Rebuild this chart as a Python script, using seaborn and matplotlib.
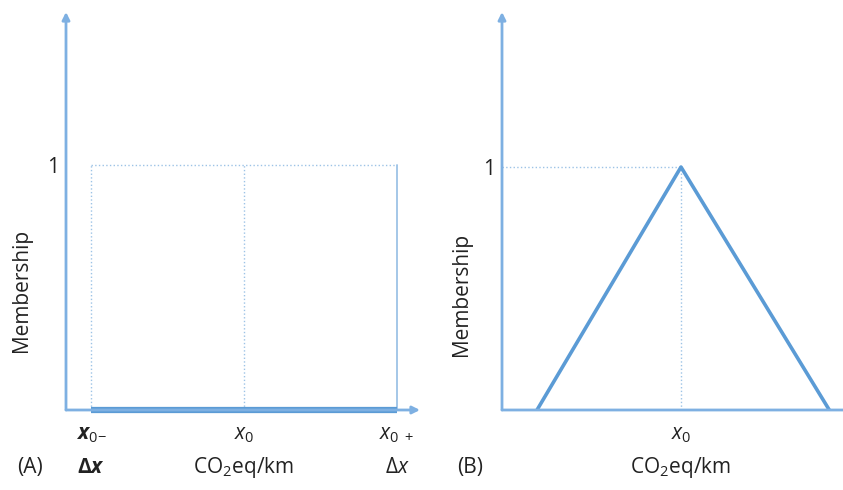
import matplotlib
matplotlib.use("Agg")
import matplotlib.pyplot as plt
import seaborn as sns

# panel A: crisp interval x0 +/- dx (drawn as a bar on the axis)
crisp_x = [-1.0, 1.0]
crisp_y = [0.0, 0.0]
a_ticks = [-1.0, 0.0, 1.0]
a_ticklabels = [r"$\mathbfit{x}_{0\!-}$", r"$x_0$", r"$x_{0\ +}$"]
a_subrow = [r"$\mathbf{\Delta}\mathbfit{x}$", "CO$_2$eq/km", r"$\Delta x$"]

# panel B: triangular membership around x0
tri_x = [-1.0, 0.0, 1.03]
tri_y = [0.0, 1.0, 0.0]
b_ticks = [0.0]
b_ticklabels = [r"$x_0$"]

sns.set_style("white")
plt.rcParams["font.family"] = ["Open Sans", "DejaVu Sans"]
plt.rcParams["mathtext.fontset"] = "custom"
plt.rcParams["mathtext.rm"] = "Open Sans"
plt.rcParams["mathtext.it"] = "Open Sans:italic"
plt.rcParams["mathtext.bf"] = "Open Sans:bold"
plt.rcParams["mathtext.bfit"] = "Open Sans:bold:italic"

main_c = "#5b9bd5"
axis_c = "#7eb0e2"
guide_c = "#9dc3e6"
txt_c = "#222222"
fs = 15

W, H = 843, 490
fig = plt.figure(figsize=(W / 100, H / 100), dpi=100)


def px_axes(x0, x1, ytop, ybot):
    return fig.add_axes([x0 / W, (H - ybot) / H, (x1 - x0) / W, (ybot - ytop) / H])


def frame(ax, xarrow=True):
    for s in ax.spines.values():
        s.set_visible(False)
    ax.annotate("", xy=(0, 1), xytext=(0, 0), xycoords="axes fraction",
                arrowprops=dict(arrowstyle="-|>", color=axis_c, lw=2,
                                mutation_scale=11, shrinkA=0, shrinkB=0))
    style = "-|>" if xarrow else "-"
    ax.annotate("", xy=(1, 0), xytext=(0, 0), xycoords="axes fraction",
                arrowprops=dict(arrowstyle=style, color=axis_c, lw=2,
                                mutation_scale=11, shrinkA=0, shrinkB=0))
    ax.tick_params(length=0)
    ax.set_yticks([1.0])
    ax.set_yticklabels(["1"], fontsize=fs, color=txt_c)
    ax.tick_params(axis="y", pad=5)
    ax.set_ylabel("Membership", fontsize=fs, color=txt_c)


# ---- panel A
axA = px_axes(66, 420, 12, 410)
axA.set_xlim(-1.163, 1.150)
axA.set_ylim(0, 1.624)
frame(axA)
axA.plot([crisp_x[0], crisp_x[1]], [1, 1], ls=":", color=guide_c, lw=1)
axA.plot([crisp_x[0], crisp_x[0]], [0, 1], ls=":", color=guide_c, lw=1)
axA.plot([0, 0], [0, 1], ls=":", color=guide_c, lw=1)
axA.plot([crisp_x[1], crisp_x[1]], [0, 1], ls="-", color=guide_c, lw=1.3)
sns.lineplot(x=crisp_x, y=crisp_y, ax=axA, color=main_c, lw=4.5,
             solid_capstyle="butt", clip_on=False)
axA.set_xticks(a_ticks)
axA.set_xticklabels(a_ticklabels, fontsize=fs, color=txt_c)
axA.tick_params(axis="x", pad=10)
for x, lab in zip(a_ticks, a_subrow):
    axA.text(x, -57 / 398, lab, transform=axA.get_xaxis_transform(),
             ha="center", va="center", fontsize=fs, color=txt_c)
axA.text(-36 / 354, -57 / 398, "(A)", transform=axA.transAxes,
         ha="center", va="center", fontsize=fs, color=txt_c)
axA.yaxis.set_label_coords(-34 / 354, 0.30)

# ---- panel B
axB = px_axes(502, 843, 12, 410)
axB.set_xlim(-1.243, 1.125)
axB.set_ylim(0, 1.638)
frame(axB, xarrow=False)
axB.plot([axB.get_xlim()[0], 0], [1, 1], ls=":", color=guide_c, lw=1)
axB.plot([0, 0], [0, 1], ls=":", color=guide_c, lw=1)
sns.lineplot(x=tri_x, y=tri_y, ax=axB, color=main_c, lw=2.6, sort=False)
axB.set_xticks(b_ticks)
axB.set_xticklabels(b_ticklabels, fontsize=fs, color=txt_c)
axB.tick_params(axis="x", pad=10)
axB.text(0, -57 / 398, "CO$_2$eq/km", transform=axB.get_xaxis_transform(),
         ha="center", va="center", fontsize=fs, color=txt_c)
axB.text(-32 / 341, -57 / 398, "(B)", transform=axB.transAxes,
         ha="center", va="center", fontsize=fs, color=txt_c)
axB.yaxis.set_label_coords(-30 / 341, 0.29)

fig.savefig("out.png", dpi=100)
